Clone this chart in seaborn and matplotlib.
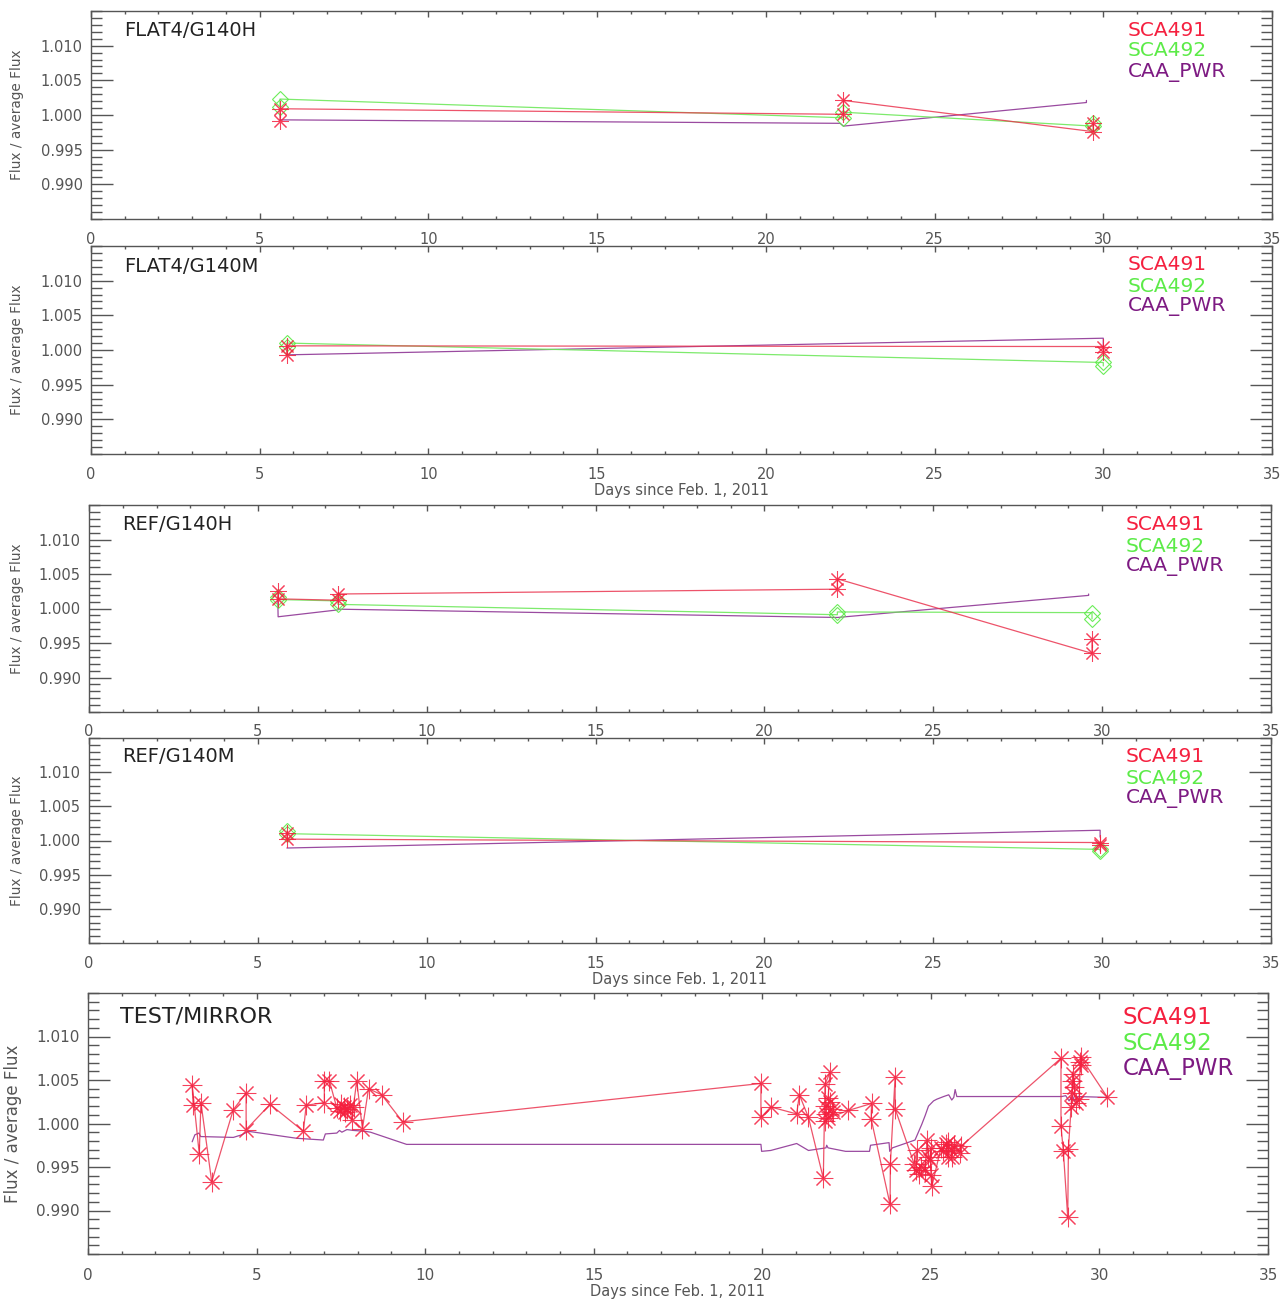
import numpy as np
import matplotlib
matplotlib.use("Agg")
import matplotlib.pyplot as plt
import seaborn as sns
from matplotlib.ticker import MultipleLocator, FixedLocator

# ---- data (days since Feb 1 2011, flux / average flux) ----
titles = ["FLAT4/G140H", "FLAT4/G140M", "REF/G140H", "REF/G140M", "TEST/MIRROR"]
series_names = ["SCA491", "SCA492", "CAA_PWR"]

flat_h_days_sca491 = [5.6, 5.6, 22.3, 22.3, 29.7, 29.7]
flat_h_sca491 = [0.9992, 1.0009, 1.0001, 1.0021, 0.9976, 0.9988]
flat_h_days_sca492 = [5.6, 5.6, 22.3, 22.3, 29.7, 29.7]
flat_h_sca492 = [1.0012, 1.0023, 0.9996, 1.0004, 0.9984, 0.9988]
flat_h_days_pwr = [5.6, 22.2, 22.3, 29.5, 29.5]
flat_h_pwr = [0.9993, 0.9988, 0.9984, 1.0018, 1.0021]

flat_m_days_sca491 = [5.8, 5.8, 30.0, 30.0]
flat_m_sca491 = [0.9993, 1.0006, 1.0005, 0.9997]
flat_m_days_sca492 = [5.8, 5.8, 30.0, 30.0]
flat_m_sca492 = [1.0004, 1.0010, 0.9982, 0.9977]
flat_m_days_pwr = [5.8, 30.0, 30.0]
flat_m_pwr = [0.9993, 1.0017, 1.0005]

ref_h_days_sca491 = [5.59, 5.59, 7.37, 7.37, 22.16, 22.16, 29.7, 29.7]
ref_h_sca491 = [1.0025, 1.0014, 1.0012, 1.0021, 1.0028, 1.0043, 0.9935, 0.9956]
ref_h_days_sca492 = [5.59, 5.59, 7.37, 7.37, 22.16, 22.16, 29.7, 29.7]
ref_h_sca492 = [1.0017, 1.0013, 1.0011, 1.0006, 0.9991, 0.9995, 0.9994, 0.9985]
ref_h_days_pwr = [5.59, 5.6, 7.37, 7.4, 22.16, 29.6, 29.6]
ref_h_pwr = [1.0013, 0.9988, 0.9998, 0.9999, 0.9987, 1.0019, 1.0021]

ref_m_days_sca491 = [5.86, 5.86, 29.94, 29.94]
ref_m_sca491 = [1.0011, 1.0002, 0.9997, 0.9993]
ref_m_days_sca492 = [5.86, 5.86, 29.94, 29.94]
ref_m_sca492 = [1.0014, 1.0010, 0.9987, 0.9985]
ref_m_days_pwr = [5.86, 29.94, 29.94]
ref_m_pwr = [0.9989, 1.0015, 1.0005]

mirror_days_sca491 = [
    3.12, 3.09, 3.30, 3.35, 3.67, 4.31, 4.69, 4.69, 5.40, 6.39, 6.47, 7.01, 7.01,
    7.16, 7.38, 7.48, 7.58, 7.50, 7.68, 7.78, 7.63, 7.88, 7.82, 7.97, 8.14, 8.32,
    8.71, 9.33, 19.96, 19.96, 20.25, 21.02, 21.10, 21.37, 21.81, 21.86, 22.01,
    21.95, 22.02, 21.86, 22.06, 21.90, 22.10, 21.86, 21.94, 22.55, 23.24, 23.23,
    23.79, 23.80, 23.94, 23.94, 24.50, 24.60, 24.55, 24.70, 24.64, 24.82, 24.89,
    24.92, 24.97, 25.00, 25.00, 25.03, 25.30, 25.35, 25.45, 25.50, 25.50, 25.60,
    25.62, 25.70, 25.85, 25.90, 28.86, 28.86, 28.93, 29.06, 29.08, 29.16, 29.18,
    29.20, 29.24, 29.22, 29.30, 29.40, 29.43, 29.44, 29.45, 30.22,
]
mirror_sca491 = [
    1.0021, 1.0044, 0.9965, 1.0024, 0.9933, 1.0016, 1.0035, 0.9993, 1.0022, 0.9991,
    1.0021, 1.0024, 1.0049, 1.0049, 1.0018, 1.0014, 1.0019, 1.0022, 1.0017, 1.0021,
    1.0013, 1.0019, 1.0004, 1.0049, 0.9994, 1.0040, 1.0033, 1.0002, 1.0046, 1.0007,
    1.0019, 1.0011, 1.0033, 1.0007, 0.9937, 1.0045, 1.0059, 1.0029, 1.0025, 1.0020,
    1.0017, 1.0011, 1.0013, 1.0003, 1.0006, 1.0015, 1.0023, 1.0005, 0.9907, 0.9954,
    1.0054, 1.0017, 0.9954, 0.9970, 0.9946, 0.9950, 0.9942, 0.9946, 0.9981, 0.9961,
    0.9958, 0.9972, 0.9941, 0.9928, 0.9972, 0.9968, 0.9976, 0.9962, 0.9979, 0.9970,
    0.9962, 0.9975, 0.9966, 0.9974, 1.0075, 0.9997, 0.9968, 0.9892, 0.9971, 1.0019,
    1.0035, 1.0049, 1.0042, 1.0057, 1.0024, 1.0028, 1.0071, 1.0067, 1.0076, 1.0031,
]
mirror_days_pwr = [
    3.09, 3.17, 3.29, 3.34, 4.31, 4.56, 4.76, 6.19, 6.98, 7.04, 7.38, 7.46, 7.53,
    7.68, 7.88, 8.23, 8.38, 9.45, 19.96, 19.98, 20.25, 21.02, 21.37, 21.89, 21.91,
    21.95, 22.47, 23.18, 23.21, 23.76, 23.78, 23.86, 24.53, 24.63, 24.73, 24.83,
    24.93, 24.98, 25.08, 25.18, 25.38, 25.53, 25.62, 25.68, 25.72, 25.77, 28.88,
    29.00, 29.10, 29.20, 29.26, 29.36, 30.24,
]
mirror_pwr = [
    0.9979, 0.9987, 0.9989, 0.9985, 0.9984, 0.9987, 0.9991, 0.9983, 0.9981, 0.9988,
    0.9989, 0.9992, 0.9990, 0.9993, 0.9992, 0.9991, 0.9990, 0.9976, 0.9976, 0.9968,
    0.9969, 0.9977, 0.9969, 0.9972, 0.9975, 0.9972, 0.9968, 0.9968, 0.9975, 0.9978,
    0.9968, 0.9972, 0.9981, 0.9990, 0.9999, 1.0009, 1.0020, 1.0022, 1.0026, 1.0028,
    1.0031, 1.0033, 1.0027, 1.0030, 1.0039, 1.0031, 1.0031, 1.0032, 1.0026, 1.0032,
    1.0026, 1.0031, 1.0030,
]

ytick_values = [0.990, 0.995, 1.000, 1.005, 1.010]
xtick_values = [0, 5, 10, 15, 20, 25, 30, 35]

panels = [
    dict(sca491=(flat_h_days_sca491, flat_h_sca491), sca492=(flat_h_days_sca492, flat_h_sca492),
         pwr=(flat_h_days_pwr, flat_h_pwr)),
    dict(sca491=(flat_m_days_sca491, flat_m_sca491), sca492=(flat_m_days_sca492, flat_m_sca492),
         pwr=(flat_m_days_pwr, flat_m_pwr)),
    dict(sca491=(ref_h_days_sca491, ref_h_sca491), sca492=(ref_h_days_sca492, ref_h_sca492),
         pwr=(ref_h_days_pwr, ref_h_pwr)),
    dict(sca491=(ref_m_days_sca491, ref_m_sca491), sca492=(ref_m_days_sca492, ref_m_sca492),
         pwr=(ref_m_days_pwr, ref_m_pwr)),
    dict(sca491=(mirror_days_sca491, mirror_sca491), sca492=None,
         pwr=(mirror_days_pwr, mirror_pwr)),
]

# ---- layout (pixel boxes of the reference) ----
W, H = 1286, 1306
boxes = [  # left, top, right, bottom in pixels
    (91, 11, 1272, 219),
    (91, 246, 1272, 454),
    (89, 505, 1271, 712),
    (89, 738, 1271, 943),
    (88, 993, 1268, 1254),
]
show_xlabel = [False, True, False, True, True]
title_pos = [(124, 30), (124, 266), (122, 525), (122, 757), (120, 1017)]
legend_pos = [(1128, 30, 21), (1128, 265, 21), (1126, 525, 21), (1126, 757, 21), (1123, 1017, 26)]

RED = "#f5203f"
GREEN = "#5ceb48"
PURPLE = "#7d1a82"
LINE_RED = "#ea3550"
LINE_GREEN = "#6fe85c"
LINE_PURPLE = "#9a4aa0"
GREY = "#555555"

sns.set_style("white")
plt.rcParams["font.family"] = ["DejaVu Sans"]

fig = plt.figure(figsize=(W / 100, H / 100), dpi=100)

for i, panel in enumerate(panels):
    l, t, r, b = boxes[i]
    ax = fig.add_axes([l / W, 1 - b / H, (r - l) / W, (b - t) / H])
    big = i == 4
    star_ms = 14 if big else 12

    if panel["pwr"] is not None:
        xs, ys = panel["pwr"]
        sns.lineplot(x=xs, y=ys, sort=False, estimator=None, color=LINE_PURPLE,
                     lw=0.9, ax=ax)
    if panel["sca492"] is not None:
        xs, ys = panel["sca492"]
        sns.lineplot(x=xs, y=ys, sort=False, estimator=None, color=LINE_GREEN,
                     lw=0.9, marker="D", ms=8, mfc="none", mec=GREEN, mew=0.8,
                     alpha=0.9, ax=ax)
    if panel["sca491"] is not None:
        xs, ys = panel["sca491"]
        sns.lineplot(x=xs, y=ys, sort=False, estimator=None, color=LINE_RED,
                     lw=0.9, marker=(8, 2, 0), ms=star_ms, mec=RED, mew=0.75,
                     alpha=0.85, ax=ax)

    ax.set_xlim(0, 35)
    ax.set_ylim(0.985, 1.015)
    ax.xaxis.set_major_locator(FixedLocator(xtick_values))
    ax.xaxis.set_minor_locator(MultipleLocator(1))
    ax.yaxis.set_major_locator(FixedLocator(ytick_values))
    ax.yaxis.set_minor_locator(MultipleLocator(0.001))
    ax.set_yticklabels([f"{v:.3f}" for v in ytick_values])
    ax.set_xticklabels([str(v) for v in xtick_values])

    fs_tick = 11 if big else 10.5
    ax.tick_params(axis="y", which="major", direction="in", length=16, width=1,
                   color=GREY, left=True, right=True, labelsize=fs_tick,
                   labelcolor=GREY, pad=6)
    ax.tick_params(axis="y", which="minor", direction="in", length=8, width=1,
                   color=GREY, left=True, right=True)
    ax.tick_params(axis="x", which="major", direction="in", length=4.5, width=1,
                   color=GREY, bottom=True, top=True, labelsize=fs_tick,
                   labelcolor=GREY, pad=9 if not big else 10)
    ax.tick_params(axis="x", which="minor", direction="in", length=2.5, width=1,
                   color=GREY, bottom=True, top=True)
    for s in ax.spines.values():
        s.set_color(GREY)
        s.set_linewidth(1)

    ax.set_ylabel("Flux / average Flux", fontsize=12 if big else 9.8, color=GREY)
    ylab_x = 22 if big else 24
    ax.yaxis.set_label_coords((ylab_x - l) / (r - l), 0.5)
    if show_xlabel[i]:
        ax.set_xlabel("Days since Feb. 1, 2011", fontsize=10.5, color=GREY, labelpad=1)
    else:
        ax.set_xlabel("")

    tx, ty = title_pos[i]
    fig.text(tx / W, 1 - ty / H, titles[i], fontsize=16 if big else 14,
             color="#222222", va="center", ha="left")
    lx, ly, step = legend_pos[i]
    for k, (name, col) in enumerate(zip(series_names, [RED, GREEN, PURPLE])):
        fig.text(lx / W, 1 - (ly + k * step) / H, name, fontsize=16.5 if big else 14.5,
                 color=col, va="center", ha="left")

fig.savefig("out.png", dpi=100)
